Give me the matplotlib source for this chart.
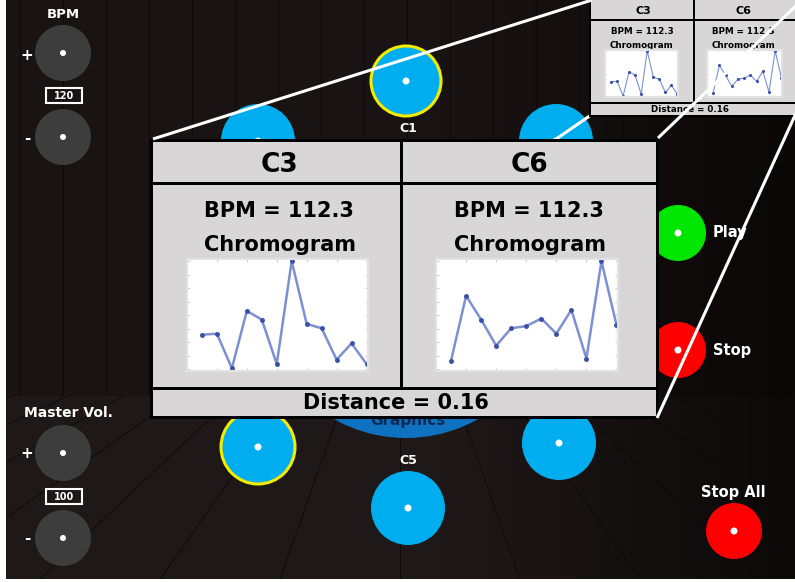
import numpy as np
import matplotlib.pyplot as plt
from matplotlib.patches import Circle, Rectangle

W, H = 795, 582

# chromagram values (12 pitch classes)
chroma_c3 = [0.32, 0.33, 0.01, 0.54, 0.46, 0.05, 1.00, 0.42, 0.38, 0.09, 0.24, 0.05]
chroma_c6 = [0.08, 0.68, 0.46, 0.22, 0.38, 0.40, 0.47, 0.33, 0.55, 0.10, 1.00, 0.41]
card_names = ['C3', 'C6']
card_bpm = [112.3, 112.3]
distance = 0.16
bpm_value = 120
master_vol = 100

plt.rcParams['font.family'] = 'DejaVu Sans'
plt.rcParams['font.weight'] = 'bold'


def px_rect(x0, y0, x1, y1):
    return [x0 / W, 1 - y1 / H, (x1 - x0) / W, (y1 - y0) / H]


fig = plt.figure(figsize=(W / 100, H / 100), dpi=100)
ax = fig.add_axes([0, 0, 1, 1])
ax.set_xlim(0, W)
ax.set_ylim(H, 0)
ax.axis('off')

# background: dark wood wall + floor, darker to the right
xs = np.linspace(0, 1, W)
ys = np.linspace(0, 1, H)
fade = np.clip(1 - (xs - 0.55) * 1.4, 0.4, 1.0)
bg = np.zeros((H, W, 3))
base = np.array([0.105, 0.075, 0.075])
floor = np.array([0.125, 0.095, 0.095])
for i, yy in enumerate(ys):
    c = floor if yy > 0.68 else base
    bg[i] = c[None, :] * fade[:, None]
ax.imshow(bg, extent=(0, W, H, 0), zorder=0, aspect='auto')
for xp in np.arange(20, W, 43):
    ax.plot([xp, xp], [0, 395], color='#0e0909', lw=0.7, zorder=0.5)
for k in range(-12, 13):
    x_top = 400 + k * 55
    ax.plot([x_top, 400 + (x_top - 400) * 2.2], [395, 582], color='#0e0909',
            lw=0.6, zorder=0.5)
ax.add_patch(Rectangle((0, 0), 6, H, fc='white', ec='none', zorder=9))
ax.add_patch(Rectangle((0, H - 3), W, 3, fc='white', ec='none', zorder=9))


def knob(x, y):
    ax.add_patch(Circle((x, y), 28, fc='#3d3d3d', ec='none', zorder=2))
    ax.add_patch(Circle((x, y), 3, fc='white', ec='none', zorder=3))


def pad(x, y, r=37, color='#00adef', ring=False):
    ax.add_patch(Circle((x, y), r, fc=color, ec='#f2ec00' if ring else 'none',
                        lw=2.2, zorder=2))
    ax.add_patch(Circle((x, y), 3.5, fc='white', ec='none', zorder=3))


# left controls
ax.text(63, 15, 'BPM', color='white', fontsize=9.5, ha='center', va='center')
knob(63, 53)
knob(63, 137)
ax.text(27, 55, '+', color='white', fontsize=11, ha='center', va='center')
ax.text(27, 138, '-', color='white', fontsize=11, ha='center', va='center')
ax.add_patch(Rectangle((46, 88), 36, 15, fc='none', ec='white', lw=1.5, zorder=3))
ax.text(64, 96, str(bpm_value), color='white', fontsize=7, ha='center', va='center')

ax.text(68, 413, 'Master Vol.', color='white', fontsize=10, ha='center', va='center')
knob(63, 453)
knob(63, 538)
ax.text(27, 454, '+', color='white', fontsize=11, ha='center', va='center')
ax.text(27, 538, '-', color='white', fontsize=11, ha='center', va='center')
ax.add_patch(Rectangle((46, 489), 36, 15, fc='none', ec='white', lw=1.5, zorder=3))
ax.text(64, 497, str(master_vol), color='white', fontsize=7, ha='center', va='center')

# pads
ax.add_patch(Circle((406, 291), 147, fc='#0f72c0', ec='none', zorder=1.5))
ax.text(408, 425, 'Graphics', color='#0b2a55', fontsize=11, ha='center',
        va='baseline', zorder=1.6)
pad(406, 81, r=35, ring=True)
ax.text(408, 129, 'C1', color='white', fontsize=9, ha='center', va='center')
pad(258, 141)
pad(556, 141)
pad(258, 447, ring=True)
pad(559, 443)
pad(408, 508)
ax.text(408, 460, 'C5', color='white', fontsize=9, ha='center', va='center')

pad(678, 233, r=28, color='#00e600')
ax.text(713, 233, 'Play', color='white', fontsize=10.5, ha='left', va='center')
pad(678, 350, r=28, color='#ff0000')
ax.text(713, 351, 'Stop', color='white', fontsize=10.5, ha='left', va='center')
pad(734, 531, r=28, color='#ff0000')
ax.text(733, 492, 'Stop All', color='white', fontsize=10.5, ha='center', va='center')

# zoom line behind the big card
ax.plot([591, 153], [115, 417], color='white', lw=2.2, zorder=3,
        solid_capstyle='butt')

GRAY = '#d8d6d6'


def card_frame(x0, y0, x1, xm, yh, yb, y1, gap, z):
    ax.add_patch(Rectangle((x0, y0), x1 - x0, y1 - y0, fc='black', ec='none', zorder=z))
    for (a, b) in [(x0 + gap, xm - gap / 2), (xm + gap / 2, x1 - gap)]:
        ax.add_patch(Rectangle((a, y0 + gap), b - a, yh - y0 - gap, fc=GRAY,
                               ec='none', zorder=z + 0.1))
        ax.add_patch(Rectangle((a, yh + gap), b - a, yb - yh - gap, fc=GRAY,
                               ec='none', zorder=z + 0.1))
    ax.add_patch(Rectangle((x0 + gap, yb + gap), x1 - x0 - 2 * gap, y1 - yb - 2 * gap,
                           fc=GRAY, ec='none', zorder=z + 0.1))


# big card
card_frame(150, 139, 659, 401, 182, 387, 419, 3, 5)
for cx, name, bpm in zip([279, 529], card_names, card_bpm):
    ax.text(cx, 165, name, fontsize=19, ha='center', va='center', zorder=6)
    ax.text(cx, 211, f'BPM = {bpm}', fontsize=15, ha='center', va='center', zorder=6)
    ax.text(cx + 1, 245, 'Chromogram', fontsize=15, ha='center', va='center', zorder=6)
ax.text(396, 403, f'Distance = {distance}', fontsize=15, ha='center', va='center',
        zorder=6)

# small card (top right)
card_frame(589, -3, 799, 694, 19, 102, 117, 2, 5)
for cx, name, bpm in zip([643, 744], card_names, card_bpm):
    ax.text(cx, 11, name, fontsize=8, ha='center', va='center', zorder=6)
    ax.text(cx - 1, 31, f'BPM = {bpm}', fontsize=6.3, ha='center', va='center', zorder=6)
    ax.text(cx - 1, 45, 'Chromogram', fontsize=6.3, ha='center', va='center', zorder=6)
ax.text(690, 109, f'Distance = {distance}', fontsize=6.3, ha='center', va='center',
        zorder=6)


def chroma_plot(rect, values, lw, ms, tl):
    ca = fig.add_axes(px_rect(*rect))
    ca.set_facecolor('white')
    idx = np.arange(1, len(values) + 1)
    ca.plot(idx, values, color='#7d90d2', lw=lw, marker='o', ms=ms,
            mfc='#3a50a8', mec='#3a50a8')
    ca.set_xlim(0, 12.1)
    ca.set_ylim(-0.015, 1.02)
    ca.set_xticks([2, 4, 6, 8, 10])
    ca.set_yticks(np.arange(0, 1.01, 0.125))
    ca.tick_params(direction='in', top=True, right=True, length=tl, width=0.5,
                   color='#b8b8b8', labelleft=False, labelbottom=False)
    for s in ca.spines.values():
        s.set_color('#e2e2e2')
        s.set_linewidth(1.5)
    return ca


chroma_plot((187, 259, 368, 371), chroma_c3, 1.8, 2.5, 2)
chroma_plot((436, 259, 618, 371), chroma_c6, 1.8, 2.5, 2)
chroma_plot((605, 50, 678, 97), chroma_c3, 0.8, 1.2, 1)
chroma_plot((707, 50, 782, 97), chroma_c6, 0.8, 1.2, 1)

# zoom lines drawn over everything else
top = fig.add_axes([0, 0, 1, 1])
top.set_xlim(0, W)
top.set_ylim(H, 0)
top.axis('off')
top.patch.set_alpha(0)
top.plot([153, 592], [139, 0], color='white', lw=2.2, solid_capstyle='butt')
top.plot([802, 658], [0, 138], color='white', lw=2.2, solid_capstyle='butt')
top.plot([797, 657], [111, 418], color='white', lw=2.2, solid_capstyle='butt')

fig.savefig('out.png', dpi=100)
